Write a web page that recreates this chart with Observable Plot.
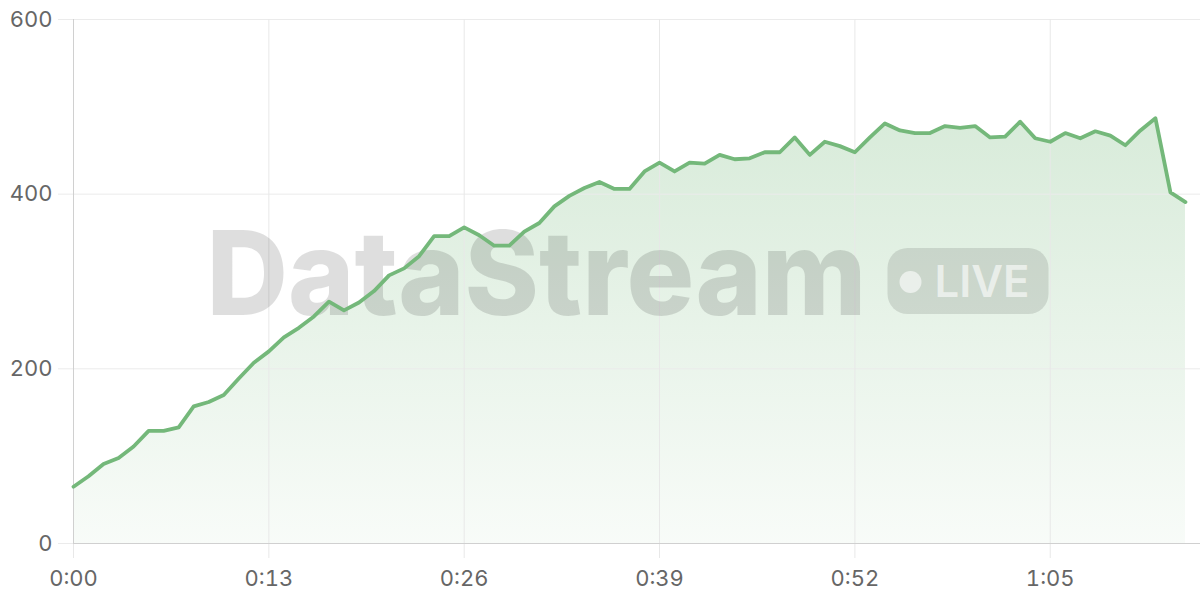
<!DOCTYPE html>
<html><head><meta charset="utf-8">
<script src="https://cdn.jsdelivr.net/npm/d3@7"></script>
<script src="https://cdn.jsdelivr.net/npm/@observablehq/plot@0.6"></script>
<style>html,body{margin:0;padding:0;background:#fff;font-family:Inter,sans-serif}</style>
</head><body><div id="chart"></div>
<script>
const seconds = [0,1,2,3,4,5,6,7,8,9,10,11,12,13,14,15,16,17,18,19,20,21,22,23,24,25,26,27,28,29,30,31,32,33,34,35,36,37,38,39,40,41,42,43,44,45,46,47,48,49,50,51,52,53,54,55,56,57,58,59,60,61,62,63,64,65,66,67,68,69,70,71,72,73,74];
const values = [65,77,91,98,111,129,129,133,157,162,170,189,207,220,236,247,260,277,267,276,289,307,315,329,352,352,362,353,341,341,357,367,386,398,407,414,406,406,426,436,426,436,435,445,440,441,448,448,465,445,460,455,448,465,481,473,470,470,478,476,478,465,466,483,464,460,470,464,472,467,456,473,487,402,391];
const xTicks = [0,13,26,39,52,65];
const yTicks = [0,200,400,600];
const watermarkText = "DataStream";
const badgeText = "LIVE";

const data = seconds.map((t,i)=>({t, v: values[i]}));
const fmt = s => `${Math.floor(s/60)}:${String(s%60).padStart(2,"0")}`;
const green = "#74b87a";

const defs = () => {
  const g = d3.create("svg:defs");
  const lg = g.append("linearGradient").attr("id","areaGrad").attr("x1",0).attr("y1",0).attr("x2",0).attr("y2",1);
  lg.append("stop").attr("offset","0%").attr("stop-color",green).attr("stop-opacity",0.28);
  lg.append("stop").attr("offset","100%").attr("stop-color",green).attr("stop-opacity",0.05);
  return g.node();
};

const watermark = (index, scales, values, dim) => {
  const cx = (dim.marginLeft + dim.width - dim.marginRight)/2;
  const cy = (dim.marginTop + dim.height - dim.marginBottom)/2;
  const textW = 660, gap = 21, pillW = 161, pillH = 66;
  const total = textW + gap + pillW;
  const x0 = cx - total/2 - 9;
  const g = d3.create("svg:g").attr("pointer-events","none").attr("text-anchor","start");
  g.append("text").attr("x", x0).attr("y", cy + 34).attr("text-anchor","start")
    .attr("font-family","Inter, sans-serif").attr("font-weight",800).attr("font-size",117)
    .attr("textLength", textW).attr("lengthAdjust","spacingAndGlyphs")
    .attr("fill","rgba(0,0,0,0.13)").text(watermarkText);
  const px = x0 + textW + gap;
  g.append("rect").attr("x", px).attr("y", cy - pillH/2).attr("width", pillW).attr("height", pillH)
    .attr("rx", 20).attr("fill","rgba(0,0,0,0.11)");
  g.append("circle").attr("cx", px + 23).attr("cy", cy + 1).attr("r", 11).attr("fill","rgba(255,255,255,0.6)");
  g.append("text").attr("x", px + 47).attr("y", cy + 16).attr("text-anchor","start")
    .attr("font-family","Inter, sans-serif").attr("font-weight",600).attr("font-size",44)
    .attr("textLength", 95).attr("lengthAdjust","spacingAndGlyphs")
    .attr("fill","rgba(255,255,255,0.6)").text(badgeText);
  return g.node();
};

const chart = Plot.plot({
  width: 1200, height: 600,
  marginLeft: 73, marginRight: 0, marginTop: 19, marginBottom: 57,
  style: {fontFamily: "Inter, sans-serif", fontSize: "22px", color: "#666", background: "#fff"},
  x: {domain: [0, 75]},
  y: {domain: [0, 600]},
  marks: [
    defs,
    Plot.areaY(data, {x: "t", y: "v", fill: "url(#areaGrad)"}),
    Plot.gridY(yTicks, {stroke: "#ebebeb", strokeOpacity: 1}),
    Plot.gridX(xTicks, {stroke: "#e8e8e8", strokeOpacity: 1}),
    Plot.axisY(yTicks, {tickSize: 15, tickPadding: 6, stroke: "#ebebeb", strokeOpacity: 1, label: null, fill: "#666", fontSize: 22}),
    Plot.axisX(xTicks, {tickSize: 15, tickPadding: 12, stroke: "#e8e8e8", strokeOpacity: 1, label: null, tickFormat: fmt, fill: "#666", fontSize: 22}),
    Plot.ruleX([0], {stroke: "#d0d0d0"}),
    Plot.ruleY([0], {stroke: "#d0d0d0"}),
    watermark,
    Plot.lineY(data, {x: "t", y: "v", stroke: green, strokeWidth: 3.8, strokeLinejoin: "round", strokeLinecap: "round"})
  ]
});
document.getElementById("chart").append(chart);
</script>
</body></html>
